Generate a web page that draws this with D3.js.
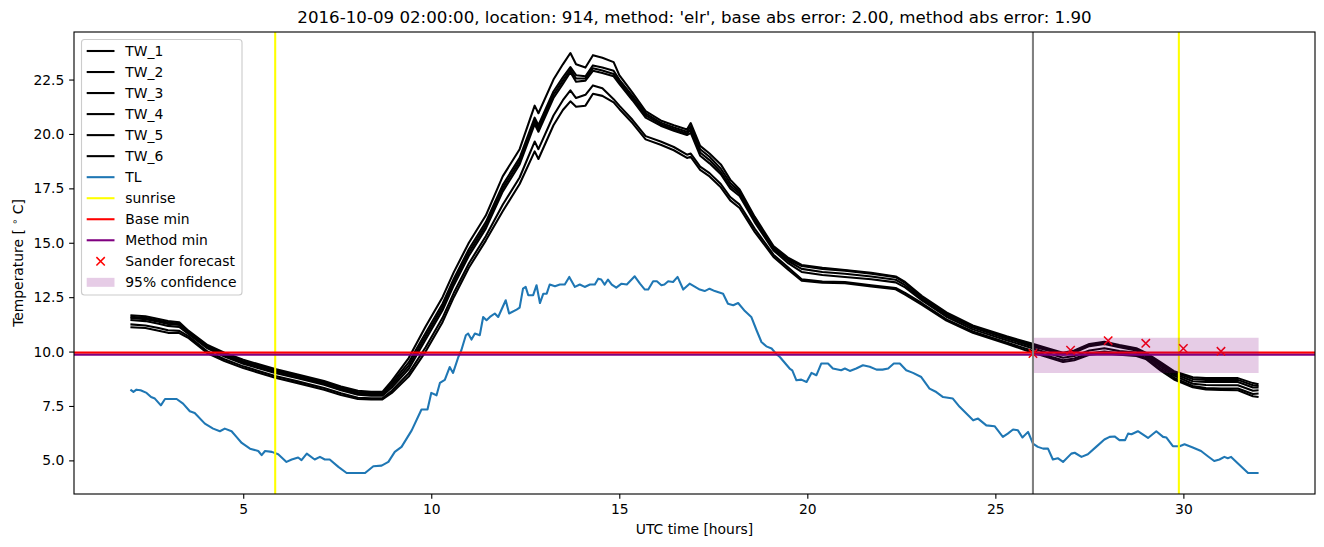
<!DOCTYPE html>
<html><head><meta charset="utf-8">
<script src="https://cdn.jsdelivr.net/npm/d3@7"></script>
<style>
body{margin:0;background:#fff}
svg{display:block}
text{font-family:"DejaVu Sans",sans-serif;fill:#000}
</style>
</head><body>
<svg id="c" width="1324" height="547"></svg>
<script>
// ---------------- data ----------------
const twHours = [2.0,2.4,2.75,3.0,3.3,3.55,4.05,4.5,5.0,5.85,6.45,7.15,7.6,8.05,8.4,8.7,8.95,9.4,9.85,10.3,10.6,11.0,11.45,11.9,12.35,12.75,12.85,13.25,13.5,13.7,13.85,14.1,14.3,14.55,14.85,15.0,15.35,15.7,16.1,16.45,16.8,16.9,17.15,17.4,17.7,17.95,18.2,18.6,19.1,19.5,19.85,20.4,21.0,21.7,22.35,22.6,23.05,23.7,24.4,25.3,25.9,26.5,26.8,27.1,27.5,27.9,28.3,28.75,29.0,29.4,29.75,30.25,30.6,31.0,31.45,31.85,32.0];
const tw1 = [11.67,11.62,11.50,11.40,11.35,10.95,10.30,9.95,9.62,9.20,
  8.95,8.65,8.40,8.20,8.15,8.15,8.65,9.70,11.15,12.50,
  13.65,15.00,16.25,18.05,19.30,21.30,20.95,22.50,23.20,23.72,
  23.20,23.05,23.62,23.50,23.30,22.70,21.90,21.05,20.62,20.40,
  20.20,20.50,19.45,19.10,18.60,17.90,17.45,16.20,14.85,14.30,
  13.98,13.85,13.75,13.62,13.45,13.20,12.55,11.80,11.20,10.70,
  10.40,10.10,9.95,10.05,10.35,10.45,10.30,10.15,9.95,9.50,
  9.10,8.82,8.78,8.78,8.78,8.55,8.50];
const tw2 = [11.60,11.55,11.43,11.33,11.28,10.90,10.25,9.89,9.56,9.14,
  8.89,8.59,8.34,8.14,8.09,8.09,8.55,9.50,10.85,12.20,
  13.35,14.70,15.95,17.65,18.90,20.75,20.40,21.95,22.60,23.07,
  22.70,22.65,23.15,23.05,22.90,22.50,21.75,20.95,20.52,20.30,
  20.10,20.35,19.30,18.95,18.40,17.75,17.35,16.10,14.78,14.22,
  13.93,13.80,13.72,13.58,13.42,13.16,12.48,11.74,11.15,10.65,
  10.34,10.05,9.90,10.00,10.30,10.40,10.25,10.10,9.90,9.45,
  9.05,8.74,8.70,8.70,8.70,8.45,8.42];
const tw3 = [11.54,11.49,11.37,11.27,11.22,10.85,10.20,9.83,9.50,9.08,
  8.83,8.53,8.28,8.08,8.03,8.03,8.45,9.35,10.70,12.05,
  13.20,14.55,15.80,17.50,18.75,20.60,20.25,21.80,22.45,22.95,
  22.55,22.55,23.02,22.92,22.75,22.40,21.65,20.85,20.45,20.22,
  20.02,20.20,19.15,18.80,18.25,17.62,17.25,16.02,14.72,14.15,
  13.80,13.66,13.58,13.45,13.30,13.05,12.42,11.68,11.10,10.60,
  10.28,10.00,9.85,9.95,10.25,10.35,10.20,10.05,9.85,9.38,
  8.98,8.64,8.60,8.60,8.60,8.35,8.35];
const tw4 = [11.45,11.40,11.28,11.18,11.13,10.80,10.15,9.77,9.44,9.02,
  8.77,8.47,8.22,8.02,7.97,7.97,8.35,9.20,10.55,11.90,
  13.05,14.40,15.65,17.35,18.60,20.45,20.10,21.65,22.30,22.84,
  22.40,22.45,22.90,22.80,22.65,22.30,21.55,20.75,20.38,20.15,
  19.95,20.05,19.00,18.65,18.15,17.50,17.15,15.95,14.65,14.05,
  13.66,13.52,13.43,13.32,13.18,12.95,12.35,11.60,11.02,10.52,
  10.20,9.88,9.72,9.80,10.05,10.15,10.02,9.95,9.80,9.30,
  8.90,8.52,8.46,8.45,8.45,8.20,8.22];
const tw5 = [11.25,11.20,11.08,10.98,10.95,10.70,10.00,9.65,9.32,8.88,
  8.63,8.33,8.08,7.88,7.85,7.85,8.20,9.00,10.20,11.55,
  12.70,14.05,15.30,16.75,18.00,19.65,19.30,20.85,21.55,22.00,
  21.65,21.80,22.23,22.10,21.60,21.30,20.65,19.90,19.65,19.40,
  19.05,19.10,18.50,18.20,17.70,17.10,16.75,15.65,14.45,13.85,
  13.32,13.22,13.20,13.05,12.92,12.70,12.22,11.48,10.92,10.42,
  10.08,9.75,9.60,9.68,9.92,10.00,9.92,9.85,9.72,9.20,
  8.80,8.42,8.32,8.30,8.30,8.05,8.07];
const tw6 = [11.12,11.08,10.96,10.86,10.85,10.62,9.92,9.57,9.24,8.80,
  8.55,8.25,8.00,7.82,7.80,7.80,8.10,8.85,10.00,11.35,
  12.50,13.85,15.10,16.45,17.70,19.20,18.85,20.40,21.10,21.50,
  21.25,21.30,21.85,21.75,21.45,21.15,20.50,19.75,19.50,19.25,
  18.90,18.95,18.35,18.05,17.55,16.95,16.60,15.50,14.35,13.75,
  13.26,13.16,13.14,12.99,12.86,12.62,12.15,11.42,10.86,10.36,
  10.00,9.68,9.52,9.60,9.85,9.92,9.85,9.80,9.66,9.12,
  8.72,8.36,8.26,8.24,8.22,7.95,7.91];

const tlHours = [2.0,2.08,2.16,2.27,2.43,2.55,2.65,2.81,2.92,3.23,3.4,3.58,3.71,3.98,4.2,4.38,4.51,4.69,4.82,4.96,
  5.18,5.4,5.49,5.58,5.76,5.93,6.15,6.29,6.46,6.55,6.69,6.9,7.04,7.17,7.3,7.53,7.75,8.24,8.46,8.68,
  8.86,9.03,9.21,9.48,9.74,9.9,10.0,10.14,10.23,10.36,10.49,10.58,10.72,10.8,10.92,10.98,11.07,11.16,11.29,11.38,
  11.47,11.56,11.69,11.78,11.98,12.07,12.27,12.35,12.44,12.51,12.58,12.71,12.8,12.89,12.98,13.07,13.15,13.29,13.42,13.55,
  13.67,13.82,13.95,14.08,14.22,14.35,14.44,14.52,14.61,14.7,14.8,14.92,15.06,15.2,15.41,15.55,15.68,15.77,15.9,16.0,
  16.12,16.2,16.3,16.43,16.55,16.7,16.87,17.14,17.27,17.4,17.54,17.76,17.89,18.03,18.16,18.34,18.51,18.65,18.78,18.91,
  19.05,19.18,19.27,19.53,19.6,19.71,19.84,19.98,20.11,20.24,20.37,20.55,20.68,20.9,21.0,21.13,21.3,21.48,21.66,21.84,
  22.0,22.15,22.3,22.46,22.63,22.81,23.03,23.25,23.43,23.61,23.87,24.05,24.41,24.54,24.76,24.98,25.2,25.33,25.47,25.6,
  25.72,25.87,26.0,26.13,26.27,26.4,26.53,26.66,26.8,27.02,27.11,27.29,27.46,27.68,27.9,28.04,28.17,28.3,28.45,28.53,
  28.62,28.79,29.06,29.28,29.46,29.55,29.72,29.9,30.03,30.25,30.47,30.65,30.82,30.96,31.09,31.18,31.27,31.36,31.72,32.0];
const tlTemps = [8.25,8.15,8.25,8.22,8.1,7.91,7.84,7.53,7.82,7.82,7.61,7.26,7.18,6.69,6.46,6.34,6.46,6.34,6.08,5.8,
  5.54,5.43,5.24,5.43,5.39,5.28,4.93,5.04,5.13,5.01,5.31,5.04,5.16,5.04,5.04,4.7,4.42,4.42,4.73,4.76,
  4.93,5.39,5.62,6.38,7.34,7.34,8.1,7.99,8.56,8.7,9.29,9.02,9.75,10.06,10.75,10.83,10.55,10.83,10.75,11.59,
  11.44,11.59,11.75,11.59,12.36,11.75,11.93,12.02,12.89,12.97,12.59,12.59,13.05,12.23,12.66,12.66,13.08,13.0,13.08,13.08,
  13.43,12.97,13.08,12.97,13.08,13.08,13.35,13.31,13.08,13.31,13.08,12.94,13.12,13.08,13.46,13.12,12.85,12.85,13.23,13.23,
  13.05,13.08,13.23,13.2,13.43,12.85,13.12,12.85,12.78,12.89,12.78,12.66,12.2,12.13,12.23,11.86,11.59,10.98,10.44,10.24,
  10.14,9.88,9.75,9.22,9.14,8.68,8.71,8.6,9.02,8.91,9.45,9.45,9.22,9.14,9.22,9.11,9.22,9.37,9.3,9.17,
  9.17,9.22,9.45,9.45,9.14,9.02,8.83,8.3,8.14,7.91,7.84,7.46,6.84,6.92,6.61,6.57,6.08,6.23,6.42,6.38,
  6.05,6.31,5.77,5.62,5.54,5.54,5.04,5.1,4.93,5.31,5.35,5.16,5.28,5.62,5.96,6.08,6.1,5.93,5.93,6.23,
  6.2,6.34,6.03,6.34,6.08,6.05,5.65,5.65,5.74,5.59,5.43,5.19,4.97,5.04,5.16,5.1,5.16,5.01,4.42,4.42];

const sunriseHours = [5.85, 29.88];
const forecastHour = [26];
const baseMin = [9.95];
const methodMin = [9.85];
const sanderHours = [26, 27, 28, 29, 30, 31];
const sanderTemps = [9.91, 10.06, 10.5, 10.38, 10.14, 10.01];
const confHours = [26, 32];
const confLow = [9.02, 9.02];
const confHigh = [10.64, 10.64];
const xTicks = [5, 10, 15, 20, 25, 30];
const yTicks = [5, 7.5, 10, 12.5, 15, 17.5, 20, 22.5];
const twNames = ["TW_1","TW_2","TW_3","TW_4","TW_5","TW_6"];
const titleText = "2016-10-09 02:00:00, location: 914, method: 'elr', base abs error: 2.00, method abs error: 1.90";

// ---------------- chart ----------------
const W = 1324, H = 547;
const M = {l: 74, r: 1315, t: 32, b: 494};
const FS = 13.89, LW = 2.08;
const svg = d3.select("#c");

const twSeries = [tw1, tw2, tw3, tw4, tw5, tw6];
const allT = [].concat(...twSeries, tlTemps);
const allH = twHours.concat(tlHours);
const tMin = d3.min(allT), tMax = d3.max(allT), tPad = (tMax - tMin) * 0.05;
const hMin = d3.min(allH), hMax = d3.max(allH), hPad = (hMax - hMin) * 0.05;

const x = d3.scaleLinear().domain([hMin - hPad, hMax + hPad]).range([M.l, M.r]);
const y = d3.scaleLinear().domain([tMin - tPad, tMax + tPad]).range([M.b, M.t]);

svg.append("rect").attr("width", W).attr("height", H).attr("fill", "#fff");

svg.append("defs").append("clipPath").attr("id", "clip")
  .append("rect").attr("x", M.l).attr("y", M.t).attr("width", M.r - M.l).attr("height", M.b - M.t);

const plot = svg.append("g").attr("clip-path", "url(#clip)");
const line = d3.line().x(d => x(d[0])).y(d => y(d[1]));

twSeries.forEach(s => {
  plot.append("path")
    .attr("d", line(twHours.map((h, i) => [h, s[i]])))
    .attr("fill", "none").attr("stroke", "#000").attr("stroke-width", LW)
    .attr("stroke-linejoin", "round");
});

plot.append("path")
  .attr("d", line(tlHours.map((h, i) => [h, tlTemps[i]])))
  .attr("fill", "none").attr("stroke", "#1f77b4").attr("stroke-width", LW)
  .attr("stroke-linejoin", "round");

sunriseHours.forEach(h => {
  plot.append("line").attr("x1", x(h)).attr("x2", x(h)).attr("y1", M.t).attr("y2", M.b)
    .attr("stroke", "#ffff00").attr("stroke-width", LW);
});

plot.append("line").attr("x1", M.l).attr("x2", M.r).attr("y1", y(baseMin[0])).attr("y2", y(baseMin[0]))
  .attr("stroke", "#ff0000").attr("stroke-width", LW);
plot.append("line").attr("x1", M.l).attr("x2", M.r).attr("y1", y(methodMin[0])).attr("y2", y(methodMin[0]))
  .attr("stroke", "#800080").attr("stroke-width", LW);

const mk = 4.2;
sanderHours.forEach((h, i) => {
  const cx = x(h), cy = y(sanderTemps[i]);
  plot.append("path")
    .attr("d", `M${cx - mk},${cy - mk}L${cx + mk},${cy + mk}M${cx - mk},${cy + mk}L${cx + mk},${cy - mk}`)
    .attr("stroke", "#ff0000").attr("stroke-width", 1.5).attr("fill", "none");
});

const area = d3.area().x(d => x(d[0])).y0(d => y(d[1])).y1(d => y(d[2]));
plot.append("path")
  .attr("d", area(confHours.map((h, i) => [h, confLow[i], confHigh[i]])))
  .attr("fill", "#800080").attr("fill-opacity", 0.2);

forecastHour.forEach(h => {
  plot.append("line").attr("x1", x(h)).attr("x2", x(h)).attr("y1", M.t).attr("y2", M.b)
    .attr("stroke", "#808080").attr("stroke-width", LW);
});

// axes
const xAxis = d3.axisBottom(x).tickValues(xTicks).tickSizeInner(4.86).tickSizeOuter(0).tickPadding(4.86)
  .tickFormat(d3.format("d"));
const gx = svg.append("g").attr("transform", `translate(0,${M.b})`).call(xAxis);
const yAxis = d3.axisLeft(y).tickValues(yTicks).tickSizeInner(4.86).tickSizeOuter(0).tickPadding(4.86)
  .tickFormat(d3.format(".1f"));
const gy = svg.append("g").attr("transform", `translate(${M.l},0)`).call(yAxis);
[gx, gy].forEach(g => {
  g.select(".domain").remove();
  g.attr("font-size", FS).attr("font-family", "DejaVu Sans");
  g.selectAll(".tick line").attr("stroke", "#000").attr("stroke-width", 1.11);
  g.selectAll(".tick text").attr("fill", "#000");
});

svg.append("rect").attr("x", M.l).attr("y", M.t).attr("width", M.r - M.l).attr("height", M.b - M.t)
  .attr("fill", "none").attr("stroke", "#000").attr("stroke-width", 1.11);

// labels
svg.append("text").attr("x", (M.l + M.r) / 2).attr("y", 23).attr("text-anchor", "middle")
  .attr("font-size", 16.67).text(titleText);
svg.append("text").attr("x", (M.l + M.r) / 2).attr("y", 534).attr("text-anchor", "middle")
  .attr("font-size", FS).text("UTC time [hours]");
const yl = svg.append("text").attr("transform", `translate(23,${(M.t + M.b) / 2}) rotate(-90)`)
  .attr("text-anchor", "middle").attr("font-size", FS);
yl.append("tspan").text("Temperature [ ");
yl.append("tspan").attr("font-size", FS * 0.7).attr("dy", -5).text("∘");
yl.append("tspan").attr("dy", 5).text(" C]");

// legend
const lg = svg.append("g");
lg.append("rect").attr("x", 81.5).attr("y", 39.5).attr("width", 160.5).attr("height", 255.5)
  .attr("rx", 3).attr("fill", "#fff").attr("fill-opacity", 0.8).attr("stroke", "#cccccc").attr("stroke-width", 1.11);
const items = twNames.map(n => ({label: n, type: "line", color: "#000"})).concat([
  {label: "TL", type: "line", color: "#1f77b4"},
  {label: "sunrise", type: "line", color: "#ffff00"},
  {label: "Base min", type: "line", color: "#ff0000"},
  {label: "Method min", type: "line", color: "#800080"},
  {label: "Sander forecast", type: "marker", color: "#ff0000"},
  {label: "95% confidence", type: "patch", color: "#800080"}
]);
const hx0 = 86.7, hx1 = 114.5, tx = 125.3, ly0 = 51, ldy = 21.03;
items.forEach((it, i) => {
  const cy = ly0 + i * ldy;
  if (it.type === "line") {
    lg.append("line").attr("x1", hx0).attr("x2", hx1).attr("y1", cy).attr("y2", cy)
      .attr("stroke", it.color).attr("stroke-width", LW);
  } else if (it.type === "marker") {
    const cx = (hx0 + hx1) / 2;
    lg.append("path")
      .attr("d", `M${cx - mk},${cy - mk}L${cx + mk},${cy + mk}M${cx - mk},${cy + mk}L${cx + mk},${cy - mk}`)
      .attr("stroke", it.color).attr("stroke-width", 1.5).attr("fill", "none");
  } else {
    lg.append("rect").attr("x", hx0).attr("y", cy - 4.5).attr("width", hx1 - hx0).attr("height", 9)
      .attr("fill", it.color).attr("fill-opacity", 0.2);
  }
  lg.append("text").attr("x", tx).attr("y", cy).attr("dy", "0.35em").attr("font-size", FS).text(it.label);
});
</script>
</body></html>
